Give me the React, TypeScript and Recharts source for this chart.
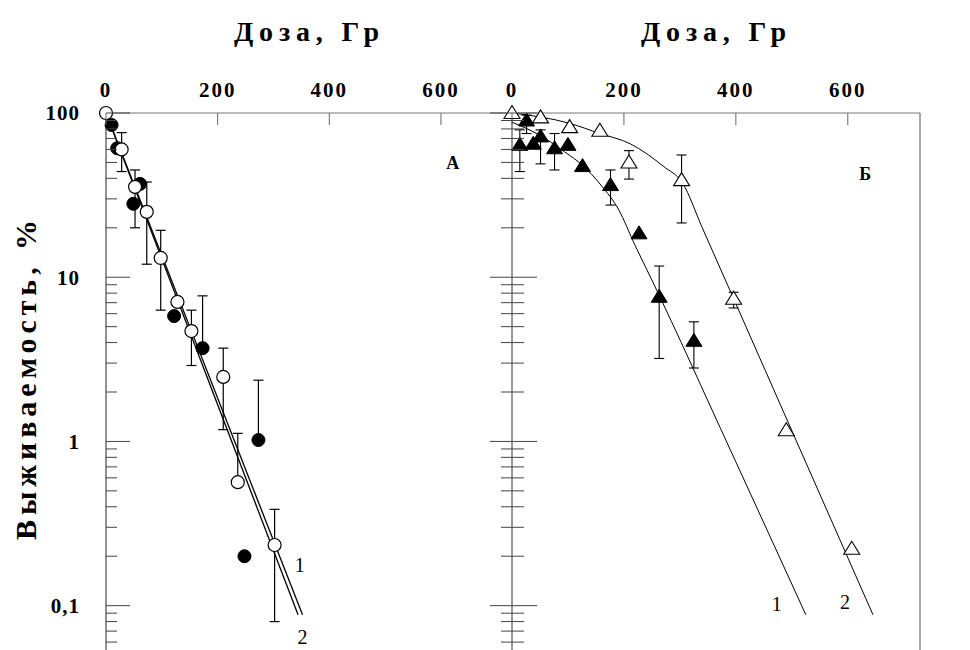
import React from "react";
import {
  ComposedChart,
  Scatter,
  Line,
  XAxis,
  YAxis,
  ErrorBar,
  ReferenceDot,
} from "recharts";

const FONT = "'Liberation Serif', 'DejaVu Serif', serif";

const doseDomain = [0, 729];
const survDomain = [0.0537, 100];
const doseTicks = [0, 200, 400, 600];
const survTicks = [
  0.06, 0.07, 0.08, 0.09, 0.1, 0.2, 0.3, 0.4, 0.5, 0.6, 0.7, 0.8, 0.9, 1, 2, 3,
  4, 5, 6, 7, 8, 9, 10, 20, 30, 40, 50, 60, 70, 80, 90, 100,
];
const survLabels: Record<string, string> = {
  "0.1": "0,1",
  "1": "1",
  "10": "10",
  "100": "100",
};

// panel A : [dose, survival %, lower, upper]
const aClosed = [
  [10, 84.5], [20, 61], [49, 28], [61, 37], [122, 5.8],
  [173, 3.7, null, 7.7], [248, 0.2], [273, 1.02, null, 2.36],
];
const aOpen = [
  [0, 100], [28, 60, 44, 76], [52, 35.5, 20, 45], [73, 25, 12, 38],
  [98, 13.1, 6.3, 19.3], [128, 7.07], [153, 4.7, 2.9, 6.3],
  [210, 2.47, 1.18, 3.7], [236, 0.565, null, 1.12], [302, 0.234, 0.08, 0.386],
];
const aFit1 = [[0, 100], [344, 0.088]];
const aFit2 = [[0, 100], [352, 0.088]];

// panel Б
const bClosed = [
  [14, 64, 44, 79], [26, 90, 75, 97], [38, 65], [51, 72, 49, 79],
  [76, 61, 45, 75], [100, 64], [126, 47.5], [176, 36.4, 27.5, 45],
  [227, 18.5], [263, 7.6, 3.2, 11.7], [325, 4.1, 2.8, 5.35],
];
const bOpen = [
  [0, 100], [51, 94], [103, 82], [157, 78], [209, 50, 39.6, 59],
  [303, 39, 21.4, 55.5], [396, 7.4, 6.5, 8.1], [490, 1.17], [607, 0.222],
];
const bFit1 = [
  [0, 88], [50, 73], [94, 58], [126, 48], [160, 36], [190, 26],
  [220, 15.6], [250, 9.6], [390, 0.89], [525, 0.088],
];
const bFit2 = [
  [0, 100], [103, 86.5], [157, 75], [211, 65], [270, 47.5], [305, 37.3],
  [340, 20], [396, 7.4], [515, 0.89], [645, 0.088],
];

const pts = (rows: any[]) =>
  rows.map(([x, y, lo, hi]) => ({
    x,
    y,
    err:
      lo == null && hi == null
        ? undefined
        : [lo == null ? 0 : y - lo, hi == null ? 0 : hi - y],
  }));

const xy = (rows: any[]) => rows.map(([x, y]) => ({ x, y }));

const isMajor = (v: number) => survLabels[String(v)] !== undefined;

const XTick = (p: any) => (
  <g>
    <line x1={p.x} x2={p.x} y1={p.y} y2={p.y + 12} stroke="#666" />
    <text
      x={p.x}
      y={p.y - 16}
      textAnchor="middle"
      fontFamily={FONT}
      fontWeight="bold"
      fontSize={21}
      style={{ letterSpacing: 2 }}
    >
      {p.payload.value}
    </text>
  </g>
);

const LeftTick = (p: any) => {
  const major = isMajor(p.payload.value);
  return (
    <g>
      <line x1={p.x} x2={p.x + (major ? 24 : 11)} y1={p.y} y2={p.y} stroke="#444" />
      {major && (
        <text x={p.x - 26} y={p.y} dy="0.35em" textAnchor="end" fontFamily={FONT} fontWeight="bold" fontSize={21} style={{ letterSpacing: 1 }}>
          {survLabels[String(p.payload.value)]}
        </text>
      )}
    </g>
  );
};

const MidTick = (p: any) => {
  const major = isMajor(p.payload.value);
  return (
    <line
      x1={p.x - (major ? 22 : 11)}
      x2={p.x + (major ? 25 : 12)}
      y1={p.y}
      y2={p.y}
      stroke="#444"
    />
  );
};

const RightTick = (p: any) => {
  const major = isMajor(p.payload.value);
  return (
    <g>
      <line x1={p.x - (major ? 25 : 11)} x2={p.x} y1={p.y} y2={p.y} stroke="#444" />
      {major && (
        <text x={p.x + 17} y={p.y} dy="0.35em" textAnchor="start" fontFamily={FONT} fontWeight="bold" fontSize={21} style={{ letterSpacing: 1 }}>
          {survLabels[String(p.payload.value)]}
        </text>
      )}
    </g>
  );
};

const Title = (p: any) => (
  <text
    x={p.at - 72}
    y={41}
    textLength={145}
    lengthAdjust="spacing"
    fontFamily={FONT}
    fontWeight="bold"
    fontSize={28}
  >
    Доза, Гр
  </text>
);

const YTitle = () => (
  <text
    x={25}
    y={540}
    transform="rotate(-90, 25, 540)"
    textLength={320}
    lengthAdjust="spacing"
    dominantBaseline="central"
    fontFamily={FONT}
    fontWeight="bold"
    fontSize={30}
  >
    Выживаемость, %
  </text>
);

const OpenCircle = (p: any) => (
  <circle cx={p.cx} cy={p.cy} r={6.5} fill="#fff" stroke="#000" strokeWidth={1.2} />
);
const FilledCircle = (p: any) => (
  <circle cx={p.cx} cy={p.cy} r={6.5} fill="#000" stroke="#000" />
);
const tri = (cx: number, cy: number) =>
  `${cx},${cy - 7.5} ${cx - 8},${cy + 5.5} ${cx + 8},${cy + 5.5}`;
const OpenTri = (p: any) => (
  <polygon points={tri(p.cx, p.cy)} fill="#fff" stroke="#000" strokeWidth={1.1} />
);
const FilledTri = (p: any) => (
  <polygon points={tri(p.cx, p.cy)} fill="#000" stroke="#000" />
);

const textLabel = (value: string, bold: boolean, size: number) => ({
  value,
  position: "center" as const,
  fontFamily: FONT,
  fontWeight: bold ? "bold" : "normal",
  fontSize: size,
  fill: "#000",
});

export default function App() {
  return (
    <div
      style={{
        position: "absolute",
        left: 0,
        top: 0,
        width: 970,
        height: 650,
        background: "#fff",
        overflow: "hidden",
      }}
    >
      {/* panel A */}
      <div style={{ position: "absolute", left: 0, top: 0 }}>
        <ComposedChart
          width={970}
          height={650}
          margin={{ top: 83, right: 457, bottom: 0, left: 46 }}
        >
          <XAxis
            type="number"
            dataKey="x"
            orientation="top"
            domain={doseDomain}
            ticks={doseTicks}
            interval={0}
            height={30}
            tickSize={0}
            tickMargin={0}
            tick={<XTick />}
            axisLine={{ stroke: "#777" }}
            label={<Title at={306} />}
          />
          <YAxis
            type="number"
            dataKey="y"
            scale="log"
            domain={survDomain}
            ticks={survTicks}
            interval={0}
            width={60}
            tickSize={0}
            tickMargin={0}
            tick={<LeftTick />}
            axisLine={{ stroke: "#222" }}
            label={<YTitle />}
          />
          <Line data={xy(aFit1)} dataKey="y" type="linear" stroke="#000" strokeWidth={1.3} dot={false} isAnimationActive={false} />
          <Line data={xy(aFit2)} dataKey="y" type="linear" stroke="#000" strokeWidth={1.3} dot={false} isAnimationActive={false} />
          <Scatter data={pts(aClosed)} dataKey="y" shape={FilledCircle} isAnimationActive={false}>
            <ErrorBar dataKey="err" direction="y" width={5} stroke="#000" strokeWidth={1.2} />
          </Scatter>
          <Scatter data={pts(aOpen)} dataKey="y" shape={OpenCircle} isAnimationActive={false}>
            <ErrorBar dataKey="err" direction="y" width={5} stroke="#000" strokeWidth={1.2} />
          </Scatter>
          <ReferenceDot x={621} y={49.6} r={0} fill="none" stroke="none" label={textLabel("А", true, 18)} />
          <ReferenceDot x={347} y={0.177} r={0} fill="none" stroke="none" label={textLabel("1", false, 20)} />
          <ReferenceDot x={352} y={0.0647} r={0} fill="none" stroke="none" label={textLabel("2", false, 20)} />
        </ComposedChart>
      </div>

      {/* panel Б */}
      <div style={{ position: "absolute", left: 0, top: 0 }}>
        <ComposedChart
          width={970}
          height={650}
          margin={{ top: 83, right: 0, bottom: 0, left: 452 }}
        >
          <XAxis
            type="number"
            dataKey="x"
            orientation="top"
            domain={doseDomain}
            ticks={doseTicks}
            interval={0}
            height={30}
            tickSize={0}
            tickMargin={0}
            tick={<XTick />}
            axisLine={{ stroke: "#777" }}
            label={<Title at={713} />}
          />
          <YAxis
            yAxisId="l"
            type="number"
            dataKey="y"
            scale="log"
            domain={survDomain}
            ticks={survTicks}
            interval={0}
            width={60}
            tickSize={0}
            tickMargin={0}
            tick={<MidTick />}
            axisLine={{ stroke: "#333" }}
          />
          <YAxis
            yAxisId="r"
            orientation="right"
            type="number"
            scale="log"
            domain={survDomain}
            ticks={survTicks}
            interval={0}
            width={50}
            tickSize={0}
            tickMargin={0}
            tick={<RightTick />}
            axisLine={{ stroke: "#555" }}
          />
          <Line yAxisId="l" data={xy(bFit1)} dataKey="y" type="monotone" stroke="#000" strokeWidth={1} dot={false} isAnimationActive={false} />
          <Line yAxisId="l" data={xy(bFit2)} dataKey="y" type="monotone" stroke="#000" strokeWidth={1} dot={false} isAnimationActive={false} />
          <Scatter yAxisId="l" data={pts(bClosed)} dataKey="y" shape={FilledTri} isAnimationActive={false}>
            <ErrorBar dataKey="err" direction="y" width={5} stroke="#000" strokeWidth={1.1} />
          </Scatter>
          <Scatter yAxisId="l" data={pts(bOpen)} dataKey="y" shape={OpenTri} isAnimationActive={false}>
            <ErrorBar dataKey="err" direction="y" width={5} stroke="#000" strokeWidth={1.1} />
          </Scatter>
          <ReferenceDot yAxisId="l" x={631} y={43} r={0} fill="none" stroke="none" label={textLabel("Б", true, 18)} />
          <ReferenceDot yAxisId="l" x={473} y={0.103} r={0} fill="none" stroke="none" label={textLabel("1", false, 20)} />
          <ReferenceDot yAxisId="l" x={595} y={0.105} r={0} fill="none" stroke="none" label={textLabel("2", false, 20)} />
        </ComposedChart>
      </div>
    </div>
  );
}
